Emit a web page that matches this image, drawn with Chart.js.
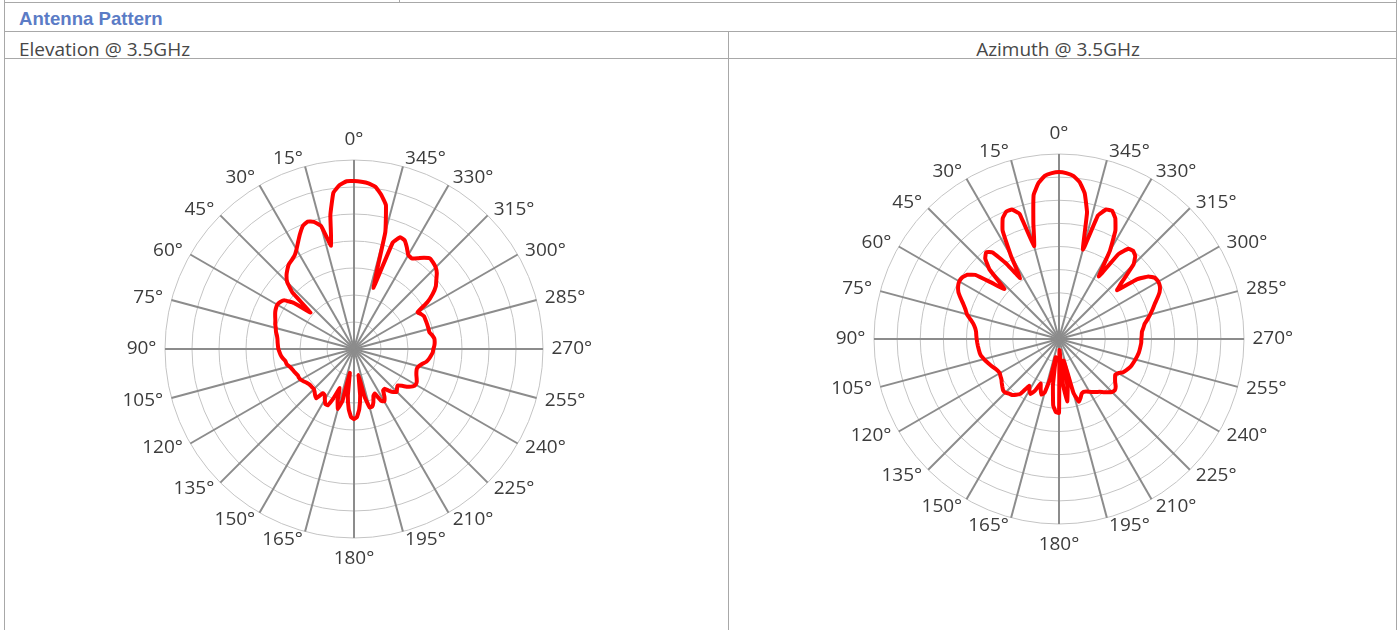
<!DOCTYPE html>
<html>
<head>
<meta charset="utf-8">
<title>Antenna Pattern</title>
<script src="https://cdn.jsdelivr.net/npm/chart.js@4.4.0/dist/chart.umd.min.js"></script>
<style>
  html, body { margin: 0; padding: 0; background: #fff; }
  body { width: 1400px; height: 630px; position: relative; overflow: hidden; }
  .ln { position: absolute; background: #a8a8a8; }
  .txt { position: absolute; white-space: nowrap; line-height: 18px; }
  .head { left: 19px; top: 8px; font: bold 18.6px "Liberation Sans", Arial, sans-serif; color: #5b7cc6; }
  .cell { top: 36px; font: 19px "Open Sans", sans-serif; color: #474747; }
  canvas { position: absolute; }
</style>
</head>
<body>
<!-- table borders -->
<div class="ln" style="left:4px;top:2px;width:1392px;height:1px"></div>
<div class="ln" style="left:399px;top:0;width:1px;height:3px"></div>
<div class="ln" style="left:4px;top:0;width:1px;height:630px"></div>
<div class="ln" style="left:1396px;top:0;width:1px;height:630px"></div>
<div class="ln" style="left:4px;top:31px;width:1392px;height:1px"></div>
<div class="ln" style="left:4px;top:58px;width:1392px;height:1px"></div>
<div class="ln" style="left:728px;top:31px;width:1px;height:599px"></div>

<div class="txt head">Antenna Pattern</div>
<div class="txt cell" style="left:19px">Elevation @ 3.5GHz</div>
<div class="txt cell" style="left:720px;width:676px;text-align:center">Azimuth @ 3.5GHz</div>

<canvas id="elevationChart" width="600" height="460" style="left:54px;top:119px"></canvas>
<canvas id="azimuthChart" width="600" height="452" style="left:759px;top:113px"></canvas>

<script>
// Spoke labels, counter-clockwise from top, every 15 degrees
const spokeLabels = ["0°", "15°", "30°", "45°", "60°", "75°", "90°", "105°", "120°", "135°", "150°", "165°",
  "180°", "195°", "210°", "225°", "240°", "255°", "270°", "285°", "300°", "315°", "330°", "345°"];

// Sample spacing of the patterns (degrees)
const angleStep = 2.5;

// Elevation @ 3.5GHz, dB, from 0° going counter-clockwise in 2.5° steps
const elevationDb = [
  -3.9, -3.9, -4.5, -5.8, -9.8, -15.4, -11.4, -10.3, -9.9, -10.3, -11.4, -12.6,
  -13.7, -14.5, -14.9, -15.2, -15.8, -16.5, -17.5, -19.6, -24.5, -21.0, -19.3, -18.8,
  -18.6, -18.7, -18.9, -19.2, -19.5, -19.7, -20.0, -20.2, -20.5, -20.7, -20.8, -20.9,
  -21.0, -21.2, -21.4, -21.7, -22.1, -22.2, -22.6, -22.9, -23.1, -23.3, -23.5, -23.5,
  -23.6, -23.9, -24.2, -24.4, -24.5, -24.5, -24.5, -24.2, -23.8, -23.5, -25.0, -24.9,
  -24.2, -23.5, -23.5, -25.2, -27.3, -24.9, -23.5, -25.2, -30.5, -26.3, -23.8, -22.4,
  -22.0, -22.4, -23.8, -26.3, -30.1, -25.9, -23.8, -23.8, -24.5, -25.6, -25.9, -24.2,
  -23.8, -24.5, -25.6, -25.7, -24.9, -24.2, -23.8, -24.2, -24.5, -23.8, -22.8, -22.1,
  -21.8, -21.9, -22.2, -22.5, -22.7, -22.8, -22.6, -22.1, -21.4, -21.0, -20.7, -20.4,
  -20.3, -20.1, -20.0, -20.0, -20.3, -20.7, -20.7, -20.7, -20.7, -20.7, -20.7, -21.0,
  -21.4, -18.9, -17.2, -15.9, -15.1, -14.2, -13.6, -13.3, -13.1, -13.7, -14.5, -15.1,
  -14.9, -13.8, -12.8, -12.6, -14.0, -23.1, -12.6, -7.7, -6.0, -4.7, -4.2, -4.0
];

// Azimuth @ 3.5GHz, dB, same angle order
const azimuthDb = [
  -3.9, -4.1, -4.6, -6.0, -8.4, -14.4, -19.2, -11.6, -10.2, -10.2, -11.2, -13.6,
  -19.2, -24.4, -20.0, -16.4, -15.5, -16.4, -18.8, -24.0, -21.2, -17.2, -15.8, -15.2,
  -15.1, -15.4, -16.0, -17.0, -18.0, -18.8, -19.4, -20.4, -21.2, -21.7, -22.0, -22.1,
  -22.2, -22.3, -22.4, -22.5, -22.6, -22.8, -23.2, -23.6, -24.0, -24.4, -24.8, -25.1,
  -25.2, -25.0, -24.8, -24.4, -24.0, -23.6, -23.6, -24.0, -24.2, -24.8, -25.6, -28.0,
  -27.2, -26.6, -27.6, -29.6, -28.4, -27.4, -28.0, -31.2, -36.0, -30.0, -25.6, -24.2,
  -24.0, -37.6, -30.0, -26.4, -29.2, -35.2, -28.0, -25.8, -26.4, -27.2, -27.4, -27.2,
  -26.8, -26.4, -26.0, -25.6, -25.0, -24.4, -23.8, -23.6, -24.0, -24.7, -25.2, -25.6,
  -25.2, -24.4, -24.0, -23.6, -23.3, -23.1, -22.9, -22.7, -22.5, -22.4, -22.3, -22.2,
  -22.2, -22.1, -22.0, -21.6, -21.2, -20.4, -19.6, -18.8, -18.0, -17.0, -16.0, -15.4,
  -15.2, -15.4, -16.4, -18.8, -23.6, -21.2, -17.2, -15.6, -15.1, -15.4, -17.6, -24.0,
  -18.0, -13.6, -11.2, -10.0, -10.2, -12.0, -20.0, -12.0, -8.0, -5.8, -4.6, -4.1
];

Chart.defaults.font.family = "'Open Sans', sans-serif";

// Radar runs clockwise, the pattern angles run counter-clockwise
function clockwiseLabels(n) {
  const perSpoke = 15 / angleStep;
  const labels = [];
  for (let i = 0; i < n; i++) {
    const k = (n - i) % n;
    labels.push(k % perSpoke === 0 ? spokeLabels[k / perSpoke] : "");
  }
  return labels;
}

function clockwiseValues(values) {
  const n = values.length;
  return values.map((_, i) => values[(n - i) % n]);
}

// Spoke labels like Excel's radar: beside the spoke end, only 0/180 sit above/below
const spokeLabelPlugin = {
  id: "spokeLabels",
  afterDraw(chart) {
    const scale = chart.scales.r;
    const ctx = chart.ctx;
    const labels = chart.data.labels;
    ctx.save();
    ctx.font = "19px 'Open Sans', sans-serif";
    ctx.fillStyle = "#3c3c3c";
    labels.forEach((text, i) => {
      if (!text) return;
      const deg = Math.round(i * 360 / labels.length);
      const vertical = deg === 0 || deg === 180;
      const p = scale.getPointPosition(i, scale.drawingArea + (vertical ? 11 : 8.5));
      ctx.textAlign = vertical ? "center" : (deg < 180 ? "left" : "right");
      ctx.textBaseline = deg === 0 ? "bottom" : (deg === 180 ? "top" : "middle");
      ctx.fillText(text, p.x, p.y);
    });
    ctx.restore();
  }
};

function drawPattern(canvasId, values, minDb) {
  const ctx = document.getElementById(canvasId).getContext("2d");
  const perSpoke = 15 / angleStep;
  new Chart(ctx, {
    type: "radar",
    data: {
      labels: clockwiseLabels(values.length),
      datasets: [{
        data: clockwiseValues(values),
        borderColor: "#ff0000",
        borderWidth: 4,
        pointRadius: 0,
        pointHoverRadius: 0,
        fill: false,
        tension: 0.1
      }]
    },
    options: {
      responsive: false,
      animation: false,
      layout: { padding: { top: 41, bottom: 41 } },
      plugins: { legend: { display: false }, tooltip: { enabled: false } },
      scales: {
        r: {
          min: minDb,
          max: 0,
          ticks: { display: false, stepSize: 5 },
          grid: { circular: true, color: "#c4c4c4", lineWidth: 1 },
          angleLines: {
            color: "#8c8c8c",
            lineWidth: c => (c.index % perSpoke === 0 ? 2 : 0)
          },
          pointLabels: { display: false }
        }
      }
    },
    plugins: [spokeLabelPlugin]
  });
}

drawPattern("elevationChart", elevationDb, -35);
drawPattern("azimuthChart", azimuthDb, -40);
</script>
</body>
</html>
